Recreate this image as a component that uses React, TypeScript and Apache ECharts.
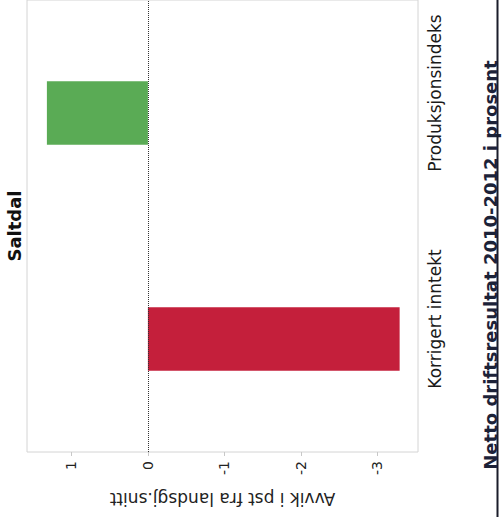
import React, { useEffect, useRef } from 'react';
import * as echarts from 'echarts';

const categories = ['Korrigert inntekt', 'Produksjonsindeks'];
const values = [-3.29, 1.32];
const barColors = ['#c41f3b', '#5aab55'];
const tickValues = [1, 0, -1, -2, -3];
const axisMin = -3.53;
const axisMax = 1.58;
const titleText = 'Saltdal';
const axisName = 'Avvik i pst fra landsgj.snitt';
const footerText = 'Netto driftsresultat 2010-2012 i prosent';

const FONT = '"DejaVu Sans", sans-serif';

export default function App() {
  const ref = useRef<HTMLDivElement>(null);
  useEffect(() => {
    if (!ref.current) return;
    const chart = echarts.init(ref.current, undefined, { renderer: 'svg' });
    chart.setOption({
      animation: false,
      backgroundColor: '#ffffff',
      grid: {
        show: true,
        left: 27,
        right: 84,
        top: -1,
        bottom: 65,
        borderColor: '#d4d4d4',
        borderWidth: 1,
      },
      xAxis: {
        type: 'value',
        inverse: true,
        min: axisMin,
        max: axisMax,
        name: axisName,
        nameLocation: 'middle',
        nameGap: 38,
        nameRotate: 180,
        nameTextStyle: { fontFamily: FONT, fontSize: 17, color: '#222' },
        axisLine: { show: false },
        splitLine: { show: false },
        axisTick: { show: true, length: 4, lineStyle: { color: '#c8c8c8' }, customValues: tickValues },
        axisLabel: {
          rotate: 90,
          margin: 9,
          fontFamily: FONT,
          fontSize: 14,
          color: '#222',
          customValues: tickValues,
          formatter: (v: number) => String(v),
        },
      },
      yAxis: {
        type: 'category',
        position: 'right',
        data: categories,
        axisLine: { show: false },
        axisTick: { show: false },
        splitLine: { show: false },
        axisLabel: {
          rotate: 90,
          margin: 8,
          fontFamily: FONT,
          fontSize: 17,
          color: '#1a1a1a',
          padding: [0, 0, 0, 40],
        },
      },
      series: [
        {
          type: 'bar',
          barWidth: '28%',
          data: values.map((v, i) => ({ value: v, itemStyle: { color: barColors[i] } })),
          markLine: {
            silent: true,
            symbol: 'none',
            label: { show: false },
            lineStyle: { type: 'dotted', color: '#333', width: 1 },
            data: [{ xAxis: 0 }],
          },
        },
      ],
      graphic: [
        {
          type: 'text',
          x: 14,
          y: 226,
          rotation: Math.PI / 2,
          style: {
            text: titleText,
            font: 'bold 18px ' + FONT,
            fill: '#111',
            align: 'center',
            verticalAlign: 'middle',
          },
        },
        {
          type: 'text',
          x: 490,
          y: 265,
          rotation: Math.PI / 2,
          style: {
            text: footerText,
            font: 'bold 18px ' + FONT,
            fill: '#1c2238',
            align: 'center',
            verticalAlign: 'middle',
          },
        },
        {
          type: 'line',
          shape: { x1: 497.5, y1: 0, x2: 497.5, y2: 517 },
          style: { stroke: '#1a1c2a', lineWidth: 2 },
        },
      ],
    });
    return () => chart.dispose();
  }, []);
  return (
    <div
      ref={ref}
      style={{ position: 'fixed', left: 0, top: 0, width: 502, height: 517, background: '#fff' }}
    />
  );
}
